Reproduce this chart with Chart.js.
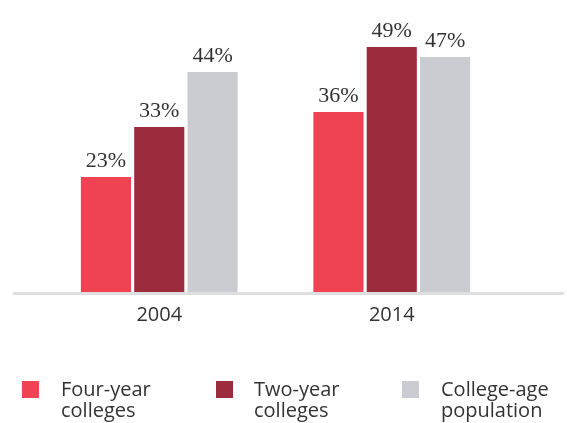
<!DOCTYPE html>
<html>
<head>
<meta charset="utf-8">
<script src="https://cdn.jsdelivr.net/npm/chart.js@4/dist/chart.umd.min.js"></script>
<style>
  html, body { margin: 0; padding: 0; background: #ffffff; }
  #wrap { width: 567px; height: 423px; }
</style>
</head>
<body>
<div id="wrap"><canvas id="c" width="567" height="423"></canvas></div>
<script>
const categories = ['2004', '2014'];
const fourYear = [23, 36];
const twoYear = [33, 49];
const collegeAge = [44, 47];
const legendLines = [['Four-year', 'colleges'], ['Two-year', 'colleges'], ['College-age', 'population']];
const seriesColors = ['#EF4252', '#9C2B3D', '#CBCCD1'];

const valueLabels = {
  id: 'valueLabels',
  afterDatasetsDraw(chart) {
    const ctx = chart.ctx;
    ctx.save();
    ctx.font = '22px "Liberation Serif", "Times New Roman", serif';
    ctx.fillStyle = '#333333';
    ctx.textAlign = 'center';
    ctx.textBaseline = 'alphabetic';
    chart.data.datasets.forEach((ds, i) => {
      const meta = chart.getDatasetMeta(i);
      meta.data.forEach((el, j) => {
        ctx.fillText(ds.data[j] + '%', el.x, el.y - 10.5);
      });
    });
    ctx.restore();
  }
};

const baseLine = {
  id: 'baseLine',
  afterDatasetsDraw(chart) {
    const ctx = chart.ctx;
    const y = chart.scales.y.getPixelForValue(0);
    ctx.save();
    ctx.fillStyle = '#DEDEDE';
    ctx.fillRect(13, y, 551, 3);
    ctx.restore();
  }
};

const customLegend = {
  id: 'customLegend',
  afterDraw(chart) {
    const ctx = chart.ctx;
    const boxX = [22, 216, 402];
    const textX = [61, 254, 441];
    ctx.save();
    chart.data.datasets.forEach((ds, i) => {
      ctx.fillStyle = ds.backgroundColor;
      ctx.fillRect(boxX[i], 381, 17, 17);
      ctx.fillStyle = '#333333';
      ctx.font = '20px "Open Sans", sans-serif';
      ctx.textAlign = 'left';
      ctx.textBaseline = 'alphabetic';
      legendLines[i].forEach((line, k) => {
        ctx.fillText(line, textX[i], 396 + k * 21);
      });
    });
    ctx.restore();
  }
};

new Chart(document.getElementById('c'), {
  type: 'bar',
  data: {
    labels: categories,
    datasets: [
      { label: legendLines[0].join(' '), data: fourYear, backgroundColor: seriesColors[0] },
      { label: legendLines[1].join(' '), data: twoYear, backgroundColor: seriesColors[1] },
      { label: legendLines[2].join(' '), data: collegeAge, backgroundColor: seriesColors[2] }
    ]
  },
  options: {
    responsive: false,
    devicePixelRatio: 1,
    animation: false,
    layout: { padding: { top: 12, left: 43, right: 59, bottom: 91 } },
    datasets: { bar: { barPercentage: 0.94, categoryPercentage: 0.688, borderWidth: 0 } },
    plugins: { legend: { display: false }, tooltip: { enabled: false } },
    scales: {
      x: {
        grid: { display: false },
        border: { display: false },
        ticks: { color: '#333333', font: { family: '"Open Sans", sans-serif', size: 20 }, padding: 3 },
        afterFit(scale) { scale.height = 40; }
      },
      y: {
        display: false,
        min: 0,
        max: 56
      }
    }
  },
  plugins: [valueLabels, baseLine, customLegend]
});
</script>
</body>
</html>
